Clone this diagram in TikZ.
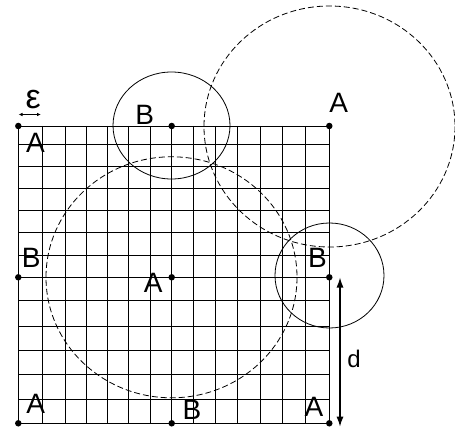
\documentclass[tikz,border=0pt]{standalone}
\usepackage{fontspec}
\setmainfont{Liberation Sans}
\usetikzlibrary{arrows.meta}
\begin{document}
\begin{tikzpicture}[x=1pt,y=-1pt,
  gridline/.style={black,line width=0.9pt},
  ring/.style={black,line width=0.8pt},
  dashring/.style={black,line width=0.8pt,dash pattern=on 6pt off 3pt},
  pt/.style={circle,fill=black,inner sep=0pt,minimum size=6.5pt},
  lbl/.style={inner sep=0pt,font=\fontsize{28}{28}\selectfont},
  dimarrow/.style={line width=1.3pt,{Latex[length=10pt,width=7pt]}-{Latex[length=10pt,width=7pt]}}]
\useasboundingbox (0,0) rectangle (455,433);
% grid
\foreach \x in {18.3,42.7,65,86.7,107.3,128.3,150,171.7,193.3,215,237.7,260,282.7,305.7,329.3}
  \draw[gridline] (\x,126) -- (\x,423.3);
\foreach \y in {126,144,166,188.3,210,232.7,255,277.3,300.7,326,350,374.3,399.3,423.3}
  \draw[gridline] (18.3,\y) -- (329.3,\y);
% circles
\draw[ring] (171.5,125.5) ellipse [x radius=58.5, y radius=53.5];
\draw[ring] (329.5,275.5) ellipse [x radius=54.5, y radius=52.5];
\draw[dashring] (329.5,126.5) ellipse [x radius=125.5, y radius=120.5];
\draw[dashring] (171.5,277.3) ellipse [x radius=125.5, y radius=120.5];
% points
\node[pt] (p1) at (18.3,126) {};
\node[pt] (p2) at (171.7,126) {};
\node[pt] (p3) at (329.3,126) {};
\node[pt] (p4) at (18.3,277.3) {};
\node[pt] (p5) at (171.7,277.3) {};
\node[pt] (p6) at (329.3,277.3) {};
\node[pt] (p7) at (18.3,423.3) {};
\node[pt] (p8) at (171.7,423.3) {};
\node[pt] (p9) at (329.3,423.3) {};
% labels
\node[lbl] (l1) at (35.5,143) {A};
\node[lbl] (l2) at (144.7,115) {B};
\node[lbl] (l3) at (338.7,103) {A};
\node[lbl] (l4) at (31.3,257.5) {B};
\node[lbl] (l5) at (153.3,283.3) {A};
\node[lbl] (l6) at (317.5,258) {B};
\node[lbl] (l7) at (35.8,404) {A};
\node[lbl] (l8) at (192,409.5) {B};
\node[lbl] (l9) at (314,406.7) {A};
% epsilon
\node[inner sep=0pt,font=\fontsize{34}{34}\selectfont] (eps) at (33.3,100) {ε};
\coordinate (e1) at (18.5,114.5);
\coordinate (e2) at (41,114.5);
\draw[line width=0.8pt,{Latex[length=4pt,width=3.5pt]}-{Latex[length=4pt,width=3.5pt]}] (e1) -- (e2);
% d
\coordinate (d1) at (340,277.5);
\coordinate (d2) at (340,426.7);
\draw[dimarrow] (d1) -- (d2);
\node[inner sep=0pt,font=\fontsize{24}{24}\selectfont] (dl) at (354,358.7) {d};
\end{tikzpicture}
\end{document}
